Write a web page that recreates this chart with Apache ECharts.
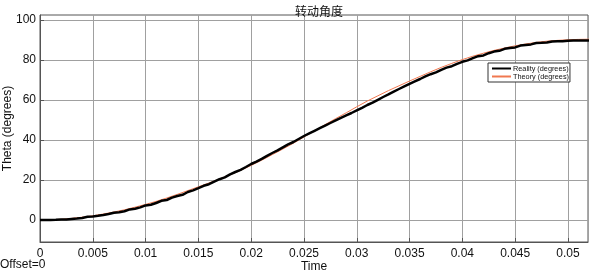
<!DOCTYPE html>
<html>
<head>
<meta charset="utf-8">
<script src="https://cdn.jsdelivr.net/npm/echarts@6/dist/echarts.min.js"></script>
<style>html,body{margin:0;padding:0;background:#fff;}#c{width:589px;height:273px;}</style>
</head>
<body>
<div id="c"></div>
<script>
// Time in seconds
var theoryTime = [0,0.001,0.002,0.003,0.004,0.005,0.006,0.007,0.008,0.009,0.010,0.011,0.012,0.013,0.014,0.015,0.016,0.017,0.018,0.019,0.020,0.021,0.022,0.023,0.024,0.025,0.026,0.027,0.028,0.029,0.030,0.031,0.032,0.033,0.034,0.035,0.036,0.037,0.038,0.039,0.040,0.041,0.042,0.043,0.044,0.045,0.046,0.047,0.048,0.049,0.050,0.051,0.052];
var theoryValues = [0,0.1,0.35,0.8,1.4,2.1,3.0,4.0,5.1,6.4,7.8,9.3,11.0,12.8,14.7,16.6,18.5,20.5,22.6,24.8,27.3,29.9,32.7,35.5,38.4,41.5,44.6,47.7,50.7,53.6,56.6,59.5,62.1,64.7,67.1,69.5,71.8,74.1,76.3,78.3,80.2,81.9,83.4,84.8,86.0,87.1,88.0,88.8,89.4,89.8,90.1,90.3,90.4];
var realityTime = [0,0.0005,0.001,0.0015,0.002,0.0025,0.003,0.0035,0.004,0.0045,0.005,0.0055,0.006,0.0065,0.007,0.0075,0.008,0.0085,0.009,0.0095,0.010,0.0105,0.011,0.0115,0.012,0.0125,0.013,0.0135,0.014,0.0145,0.015,0.0155,0.016,0.0165,0.017,0.0175,0.018,0.0185,0.019,0.0195,0.020,0.0205,0.021,0.0215,0.022,0.0225,0.023,0.0235,0.024,0.0245,0.025,0.0255,0.026,0.0265,0.027,0.0275,0.028,0.0285,0.029,0.0295,0.030,0.0305,0.031,0.0315,0.032,0.0325,0.033,0.0335,0.034,0.0345,0.035,0.0355,0.036,0.0365,0.037,0.0375,0.038,0.0385,0.039,0.0395,0.040,0.0405,0.041,0.0415,0.042,0.0425,0.043,0.0435,0.044,0.0445,0.045,0.0455,0.046,0.0465,0.047,0.0475,0.048,0.0485,0.049,0.0495,0.050,0.0505,0.051,0.0515,0.052];
var realityValues = [0,0,0.05,0.1,0.2,0.3,0.5,0.7,1.0,1.6,1.8,2.1,2.5,3.0,3.6,3.9,4.4,5.3,5.6,6.3,7.3,7.6,8.5,9.6,10.0,11.2,12.0,12.6,14.0,14.8,15.9,17.1,17.9,19.2,20.4,21.3,22.8,24.0,25.1,26.5,28.0,29.2,30.6,32.1,33.5,34.8,36.3,37.8,39.0,40.5,42.0,43.3,44.6,45.9,47.2,48.5,49.8,51.1,52.3,53.5,54.8,56.1,57.5,58.7,60.1,61.5,62.8,64.2,65.5,66.8,68.1,69.3,70.5,71.8,72.9,73.8,75.1,76.2,76.9,78.1,79.1,79.8,80.9,81.9,82.3,83.4,84.2,84.6,85.6,86.0,86.3,87.2,87.5,87.8,88.5,88.6,88.8,89.3,89.4,89.4,89.6,89.7,89.7,89.7,89.7];
var yTicks = [0,20,40,60,80,100];
var titleText = '转动角度';
var seriesNames = ['Reality (degrees)','Theory (degrees)'];

function pairs(t, v){ return t.map(function(x,i){ return [x, v[i]]; }); }

var font = 'Liberation Sans, Arial, sans-serif';
var chart = echarts.init(document.getElementById('c'), null, {renderer:'canvas'});
chart.setOption({
  animation: false,
  backgroundColor: '#fff',
  title: {
    text: titleText, left: 314, top: 0, textAlign: 'center',
    textStyle: {fontFamily: 'Noto Sans CJK SC', fontSize: 12, fontWeight: 'normal', color: '#111'}
  },
  grid: {left: 40, right: 1, top: 15, bottom: 31, outerBoundsMode: 'none', containLabel: false,
         show: true, borderColor: '#555', borderWidth: 1, backgroundColor: '#fff'},
  legend: {
    orient: 'vertical', left: 488, top: 63,
    itemWidth: 19, itemHeight: 8, itemGap: 1,
    itemStyle: {opacity: 0},
    padding: [2, 1, 2, 3],
    borderColor: '#333', borderWidth: 1, backgroundColor: '#fff',
    textStyle: {fontFamily: font, fontSize: 7.3, color: '#111', padding: [0,0,0,-3]},
    data: seriesNames
  },
  xAxis: {
    type: 'value', min: 0, max: 0.0519, interval: 0.005,
    name: 'Time', nameLocation: 'middle', nameGap: 19, nameMoveOverlap: false,
    nameTextStyle: {fontFamily: font, fontSize: 12, color: '#111'},
    axisLine: {show: true, onZero: false, lineStyle: {color: '#555'}},
    axisTick: {show: true, inside: true, length: 4, lineStyle: {color: '#555'}},
    axisLabel: {fontFamily: font, fontSize: 12, color: '#111', margin: 6, showMaxLabel: false},
    splitLine: {show: true, lineStyle: {color: '#a0a0a0', width: 1}}
  },
  yAxis: {
    type: 'value', min: -11, max: 102.5,
    name: 'Theta (degrees)', nameLocation: 'middle', nameGap: 26, nameMoveOverlap: false,
    nameTextStyle: {fontFamily: font, fontSize: 12, color: '#111'},
    axisLine: {show: true, lineStyle: {color: '#555'}},
    axisTick: {show: true, inside: true, length: 4, lineStyle: {color: '#555'}, customValues: yTicks},
    axisLabel: {fontFamily: font, fontSize: 12, color: '#111', margin: 4, customValues: yTicks},
    splitLine: {show: true, lineStyle: {color: '#a0a0a0', width: 1}}
  },
  graphic: [{
    type: 'text', left: 0, top: 259,
    style: {text: 'Offset=0', fontFamily: font, fontSize: 12, fill: '#111'}
  }],
  series: [
    {name: seriesNames[0], type: 'line', data: pairs(realityTime, realityValues), showSymbol: false, symbol: 'none',
     lineStyle: {color: '#000', width: 2.5}, itemStyle: {color: '#000'}, z: 3},
    {name: seriesNames[1], type: 'line', data: pairs(theoryTime, theoryValues), showSymbol: false, symbol: 'none',
     lineStyle: {color: '#f07850', width: 1}, itemStyle: {color: '#f07850'}, z: 2}
  ]
});
</script>
</body>
</html>
